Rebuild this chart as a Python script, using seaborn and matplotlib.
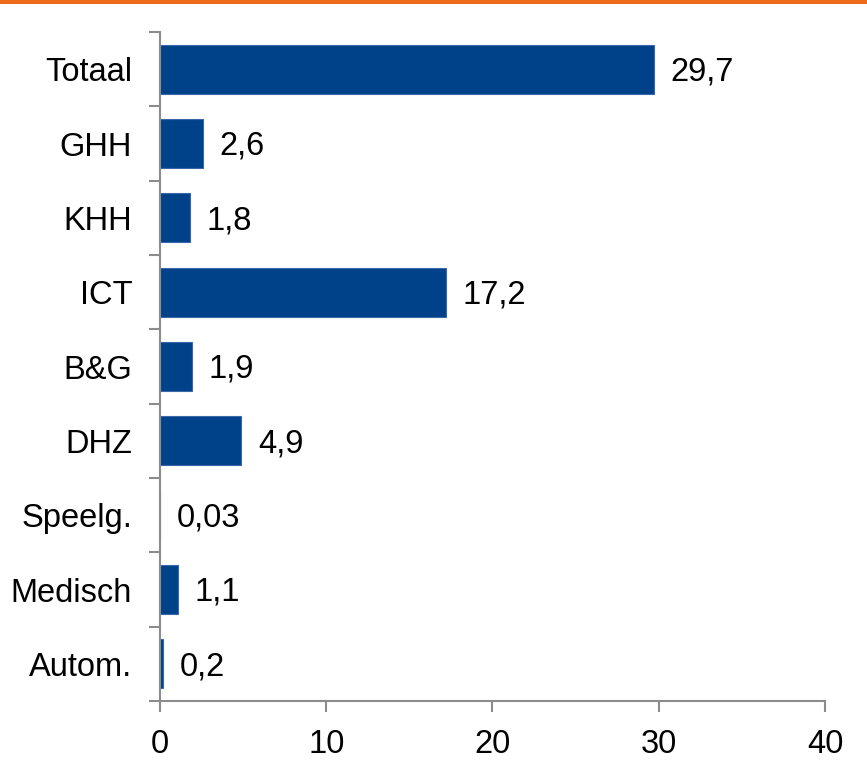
import matplotlib
matplotlib.use("Agg")
import matplotlib.pyplot as plt
import numpy as np
import pandas as pd
import seaborn as sns

categories = ["Totaal", "GHH", "KHH", "ICT", "B&G", "DHZ", "Speelg.", "Medisch", "Autom."]
values = [29.7, 2.6, 1.8, 17.2, 1.9, 4.9, 0.03, 1.1, 0.2]
value_labels = ["29,7", "2,6", "1,8", "17,2", "1,9", "4,9", "0,03", "1,1", "0,2"]
xticks = [0, 10, 20, 30, 40]

bar_color = "#00428A"
axis_color = "#8C8C8C"
orange = "#EE6A1A"
fs = 23.5

sns.set_style("white")
plt.rcParams["font.family"] = ["Liberation Sans", "DejaVu Sans"]
plt.rcParams["text.color"] = "black"
plt.rcParams["xtick.color"] = "black"
plt.rcParams["ytick.color"] = "black"

df = pd.DataFrame({"cat": categories, "val": values})

fig = plt.figure(figsize=(8.67, 7.7), dpi=100)
ax = fig.add_axes([0.1845, 0.0896, 0.9516 - 0.1845, 0.9584 - 0.0896])

sns.barplot(data=df, x="val", y="cat", orient="h", color=bar_color,
            saturation=1, width=0.66, edgecolor="#3A67A8", linewidth=0.8, ax=ax)

for i, (v, lab) in enumerate(zip(values, value_labels)):
    ax.annotate(lab, xy=(v, i), xytext=(12, -2), textcoords="offset points",
                ha="left", va="center", fontsize=fs, color="black")

ax.set_xlim(0, 40)
ax.set_ylim(len(categories) - 0.5, -0.5)
ax.set_xticks(xticks)
ax.set_xticklabels([str(t) for t in xticks])
ax.set_xlabel("")
ax.set_ylabel("")

# labels at centres, ticks at category boundaries
ax.set_yticks(np.arange(len(categories)))
ax.set_yticklabels(categories, va="center_baseline")
ax.set_yticks(np.arange(len(categories) + 1) - 0.5, minor=True)
ax.tick_params(axis="y", which="major", left=True, length=0, pad=20, labelsize=fs,
               labelcolor="black")
ax.tick_params(axis="y", which="minor", left=True, length=8, width=1.5,
               color=axis_color, direction="out")
ax.tick_params(axis="x", which="major", bottom=True, length=8, width=1.5, color=axis_color,
               direction="out", pad=12, labelsize=fs, labelcolor="black")

for side in ["top", "right"]:
    ax.spines[side].set_visible(False)
for side in ["left", "bottom"]:
    ax.spines[side].set_color(axis_color)
    ax.spines[side].set_linewidth(1.5)

# orange band at the top
fig.add_artist(plt.Rectangle((0, 1 - 4 / 770), 1, 4 / 770, transform=fig.transFigure,
                             color=orange, lw=0))

fig.savefig("out.png", dpi=100)
